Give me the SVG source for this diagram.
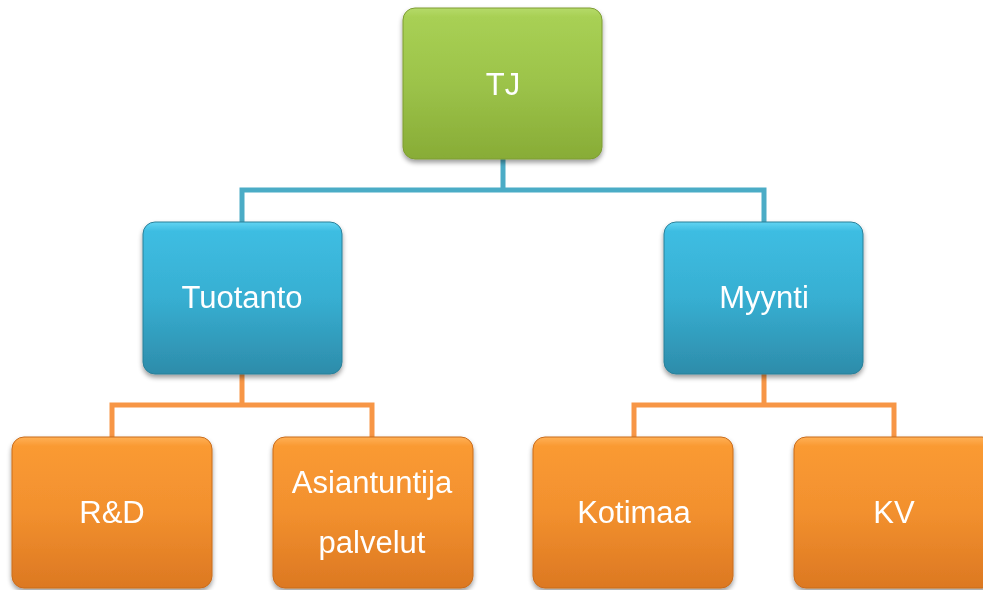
<svg xmlns="http://www.w3.org/2000/svg" width="983" height="590" viewBox="0 0 983 590">
<defs>
<linearGradient id="gG" x1="0" y1="0" x2="0" y2="1">
<stop offset="0" stop-color="#B5DA6A"/><stop offset="0.06" stop-color="#A8D054"/><stop offset="0.5" stop-color="#9CC34A"/><stop offset="1" stop-color="#88AC36"/>
</linearGradient>
<linearGradient id="gB" x1="0" y1="0" x2="0" y2="1">
<stop offset="0" stop-color="#62D4F2"/><stop offset="0.06" stop-color="#3EBDE2"/><stop offset="0.5" stop-color="#37AFD2"/><stop offset="1" stop-color="#2D8CAA"/>
</linearGradient>
<linearGradient id="gO" x1="0" y1="0" x2="0" y2="1">
<stop offset="0" stop-color="#FFB055"/><stop offset="0.06" stop-color="#FA9A33"/><stop offset="0.5" stop-color="#F2902E"/><stop offset="1" stop-color="#DC7822"/>
</linearGradient>
<filter id="sh" x="-10%" y="-10%" width="120%" height="125%">
<feGaussianBlur in="SourceAlpha" stdDeviation="2.5"/>
<feOffset dx="0" dy="3" result="b"/>
<feComponentTransfer><feFuncA type="linear" slope="0.4"/></feComponentTransfer>
<feMerge><feMergeNode/><feMergeNode in="SourceGraphic"/></feMerge>
</filter>
</defs>
<style>
.box{filter:url(#sh)}
.g{fill:url(#gG);stroke:#7E9C34;stroke-width:1}
.b{fill:url(#gB);stroke:#2B8099;stroke-width:1}
.o{fill:url(#gO);stroke:#C96C1C;stroke-width:1}
.t{font-family:"Liberation Sans",Arial,sans-serif;font-size:31px;fill:#FFFFFF;text-anchor:middle}
.cb{fill:none;stroke:#4BACC6;stroke-width:5}
.co{fill:none;stroke:#F79646;stroke-width:5}
</style>
<g id="connectors">
<path class="cb" d="M503 159 V190 M242 222 V190 H764 V222"/>
<path class="co" d="M242 374 V405 M112 437 V405 H372 V437"/>
<path class="co" d="M764 374 V405 M634 437 V405 H894 V437"/>
</g>
<g id="tj" class="box"><rect class="g" x="403" y="8" width="199" height="151" rx="12"/><text class="t" x="503" y="95">TJ</text></g>
<g id="tuotanto" class="box"><rect class="b" x="143" y="222" width="199" height="152" rx="12"/><text class="t" x="242" y="308">Tuotanto</text></g>
<g id="myynti" class="box"><rect class="b" x="664" y="222" width="199" height="152" rx="12"/><text class="t" x="764" y="308">Myynti</text></g>
<g id="rd" class="box"><rect class="o" x="12" y="437" width="200" height="151" rx="12"/><text class="t" x="112" y="523">R&amp;D</text></g>
<g id="asiantuntija" class="box"><rect class="o" x="273" y="437" width="200" height="151" rx="12"/><text class="t" x="372" y="493">Asiantuntija</text><text class="t" x="372" y="553">palvelut</text></g>
<g id="kotimaa" class="box"><rect class="o" x="533" y="437" width="200" height="151" rx="12"/><text class="t" x="634" y="523">Kotimaa</text></g>
<g id="kv" class="box"><rect class="o" x="794" y="437" width="200" height="151" rx="12"/><text class="t" x="894" y="523">KV</text></g>
</svg>
